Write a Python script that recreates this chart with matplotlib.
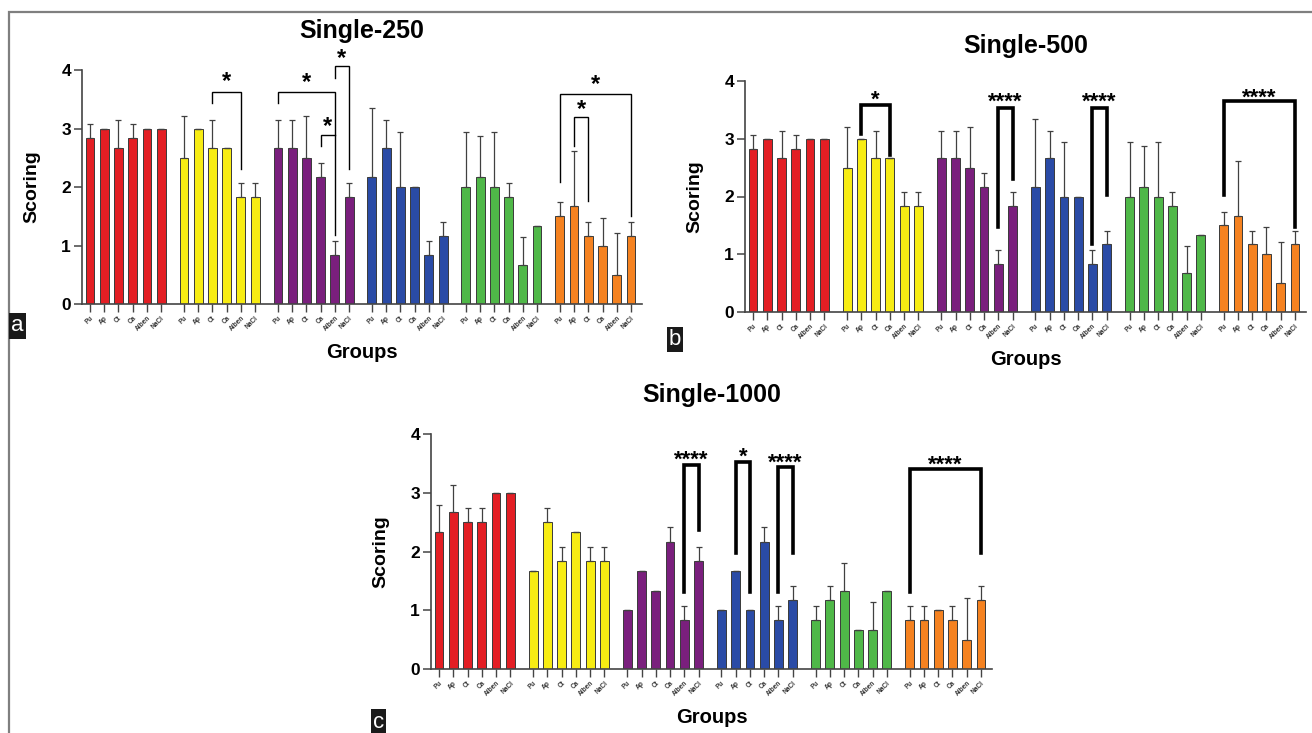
import numpy as np
import matplotlib
matplotlib.use("Agg")
import matplotlib.pyplot as plt
from matplotlib.patches import Rectangle

plt.rcParams["font.family"] = ["Liberation Sans", "DejaVu Sans"]
plt.rcParams["font.weight"] = "bold"

# --- datos ---
treatments = ["Pu", "Ap", "Ct", "Ca", "Alben", "NaCl"]
group_colors = ["#e31e24", "#f7ec13", "#7a1f7d", "#2a4ba6", "#4fb848", "#f58220"]

means_250 = [
    [2.83, 3.00, 2.67, 2.83, 3.00, 3.00],
    [2.50, 3.00, 2.67, 2.67, 1.83, 1.83],
    [2.67, 2.67, 2.50, 2.17, 0.83, 1.83],
    [2.17, 2.67, 2.00, 2.00, 0.83, 1.17],
    [2.00, 2.17, 2.00, 1.83, 0.67, 1.33],
    [1.50, 1.67, 1.17, 1.00, 0.50, 1.17],
]
errs_250 = [
    [0.24, 0.00, 0.47, 0.24, 0.00, 0.00],
    [0.71, 0.00, 0.47, 0.00, 0.24, 0.24],
    [0.47, 0.47, 0.71, 0.24, 0.24, 0.24],
    [1.18, 0.47, 0.94, 0.00, 0.24, 0.24],
    [0.94, 0.71, 0.94, 0.24, 0.47, 0.00],
    [0.24, 0.94, 0.24, 0.47, 0.71, 0.24],
]

means_500 = [
    [2.83, 3.00, 2.67, 2.83, 3.00, 3.00],
    [2.50, 3.00, 2.67, 2.67, 1.83, 1.83],
    [2.67, 2.67, 2.50, 2.17, 0.83, 1.83],
    [2.17, 2.67, 2.00, 2.00, 0.83, 1.17],
    [2.00, 2.17, 2.00, 1.83, 0.67, 1.33],
    [1.50, 1.67, 1.17, 1.00, 0.50, 1.17],
]
errs_500 = [
    [0.24, 0.00, 0.47, 0.24, 0.00, 0.00],
    [0.71, 0.00, 0.47, 0.00, 0.24, 0.24],
    [0.47, 0.47, 0.71, 0.24, 0.24, 0.24],
    [1.18, 0.47, 0.94, 0.00, 0.24, 0.24],
    [0.94, 0.71, 0.94, 0.24, 0.47, 0.00],
    [0.24, 0.94, 0.24, 0.47, 0.71, 0.24],
]

means_1000 = [
    [2.33, 2.67, 2.50, 2.50, 3.00, 3.00],
    [1.67, 2.50, 1.83, 2.33, 1.83, 1.83],
    [1.00, 1.67, 1.33, 2.17, 0.83, 1.83],
    [1.00, 1.67, 1.00, 2.17, 0.83, 1.17],
    [0.83, 1.17, 1.33, 0.67, 0.67, 1.33],
    [0.83, 0.83, 1.00, 0.83, 0.50, 1.17],
]
errs_1000 = [
    [0.47, 0.47, 0.24, 0.24, 0.00, 0.00],
    [0.00, 0.24, 0.24, 0.00, 0.24, 0.24],
    [0.00, 0.00, 0.00, 0.24, 0.24, 0.24],
    [0.00, 0.00, 0.00, 0.24, 0.24, 0.24],
    [0.24, 0.24, 0.47, 0.00, 0.47, 0.00],
    [0.24, 0.24, 0.00, 0.24, 0.71, 0.24],
]

# corchetes: (grupo, barra_i, barra_j, y_tope, y_pata_izq, y_pata_der, texto, y_centro_texto)
sig_250 = [
    (1, 2, 4, 3.62, 3.44, 2.31, "*", 3.92),
    (2, 0, 4, 3.63, 3.44, 1.18, "*", 3.90),
    (2, 3, 4, 2.89, 2.70, 2.89, "*", 3.16),
    (2, 4, 5, 4.06, 3.86, 2.31, "*", 4.32),
    (5, 0, 5, 3.59, 2.08, 1.50, "*", 3.87),
    (5, 1, 2, 3.19, 2.70, 1.76, "*", 3.45),
]
sig_500 = [
    (1, 1, 3, 3.59, 3.08, 2.72, "*", 3.79),
    (2, 4, 5, 3.54, 1.47, 2.30, "****", 3.75),
    (3, 4, 5, 3.54, 1.18, 2.03, "****", 3.75),
    (5, 0, 5, 3.65, 2.03, 1.47, "****", 3.82),
]
sig_1000 = [
    (2, 4, 5, 3.48, 1.31, 2.36, "****", 3.67),
    (3, 1, 2, 3.52, 1.98, 1.31, "*", 3.73),
    (3, 4, 5, 3.43, 1.31, 1.98, "****", 3.63),
    (5, 0, 5, 3.41, 1.31, 1.98, "****", 3.59),
]

GROUP_STEP = 6.6
W, H = 1312, 733


def panel(fig, box, title, title_y, means, errs, sig, thin, star_size):
    x0, y_top, x1, y_bot = box
    ax = fig.add_axes([x0 / W, 1 - y_bot / H, (x1 - x0) / W, (y_bot - y_top) / H])

    xs, labels = [], []
    for g, (m, e) in enumerate(zip(means, errs)):
        x = g * GROUP_STEP + np.arange(len(m))
        ax.bar(x, m, width=0.62, color=group_colors[g], edgecolor="#3a3a3a",
               linewidth=0.7, zorder=2)
        ax.errorbar(x, m, yerr=[np.zeros(len(e)), e], fmt="none", ecolor="#404040",
                    elinewidth=0.9, capsize=2.0, capthick=0.9, zorder=3)
        xs.extend(x)
        labels.extend(treatments)

    lw = 1.0 if thin else 2.6
    for g, i, j, top, yl, yr, txt, ty in sig:
        xa, xb = g * GROUP_STEP + i, g * GROUP_STEP + j
        ax.plot([xa, xa, xb, xb], [yl, top, top, yr], color="black", lw=lw,
                solid_joinstyle="miter", clip_on=False, zorder=4)
        # el asterisco queda ~0.57 em sobre la línea base
        ax.annotate(txt, ((xa + xb) / 2, ty), xytext=(0, -0.57 * star_size),
                    textcoords="offset points", ha="center", va="baseline",
                    fontsize=star_size, fontweight="bold", annotation_clip=False)

    ax.set_xlim(-0.56, 5 * GROUP_STEP + 5 + 0.77)
    ax.set_ylim(0, 4)
    ax.set_yticks([0, 1, 2, 3, 4])
    ax.set_xticks(xs)
    ax.set_xticklabels(labels, rotation=45, ha="right", rotation_mode="anchor",
                       fontsize=4.7, color="#333333")
    ax.tick_params(axis="y", labelsize=12.5, length=6, width=1.1, color="#444444", pad=2)
    ax.tick_params(axis="x", length=6, width=1.0, color="#444444", pad=1.5)
    for lab in ax.get_yticklabels():
        lab.set_fontweight("bold")
    for s in ["top", "right"]:
        ax.spines[s].set_visible(False)
    for s in ["left", "bottom"]:
        ax.spines[s].set_color("#444444")
        ax.spines[s].set_linewidth(1.2)

    ax.set_ylabel("Scoring", fontsize=14, fontweight="bold")
    ax.yaxis.set_label_coords(-0.074, 0.5)
    ax.set_xlabel("Groups", fontsize=14.5, fontweight="bold")
    ax.xaxis.set_label_coords(0.5, -0.165)
    ax.text(0.5, title_y, title, transform=ax.transAxes, ha="center", va="center",
            fontsize=18, fontweight="bold")
    return ax


fig = plt.figure(figsize=(W / 100, H / 100), dpi=100)

panel(fig, (82, 70, 642, 304), "Single-250", 1.167, means_250, errs_250, sig_250, True, 17)
panel(fig, (745, 81, 1306, 312), "Single-500", 1.15, means_500, errs_500, sig_500, False, 16)
panel(fig, (431, 434, 992, 669), "Single-1000", 1.166, means_1000, errs_1000, sig_1000, False, 16)

# marco gris
fig.patches.append(Rectangle((9 / W, -0.02), 1.1, 1 - 12 / H + 0.02, transform=fig.transFigure,
                             fill=False, edgecolor="#7f7f7f", linewidth=1.6))

# etiquetas de panel
for lab, (px, py) in zip(["a", "b", "c"], [(17.5, 326), (675, 339.5), (378.5, 722)]):
    fig.text(px / W, 1 - py / H, lab, ha="center", va="center", fontsize=16,
             fontweight="normal", color="white",
             bbox=dict(boxstyle="square,pad=0.1", fc="#1a1a1a", ec="none"))

fig.savefig("out.png", dpi=100)
